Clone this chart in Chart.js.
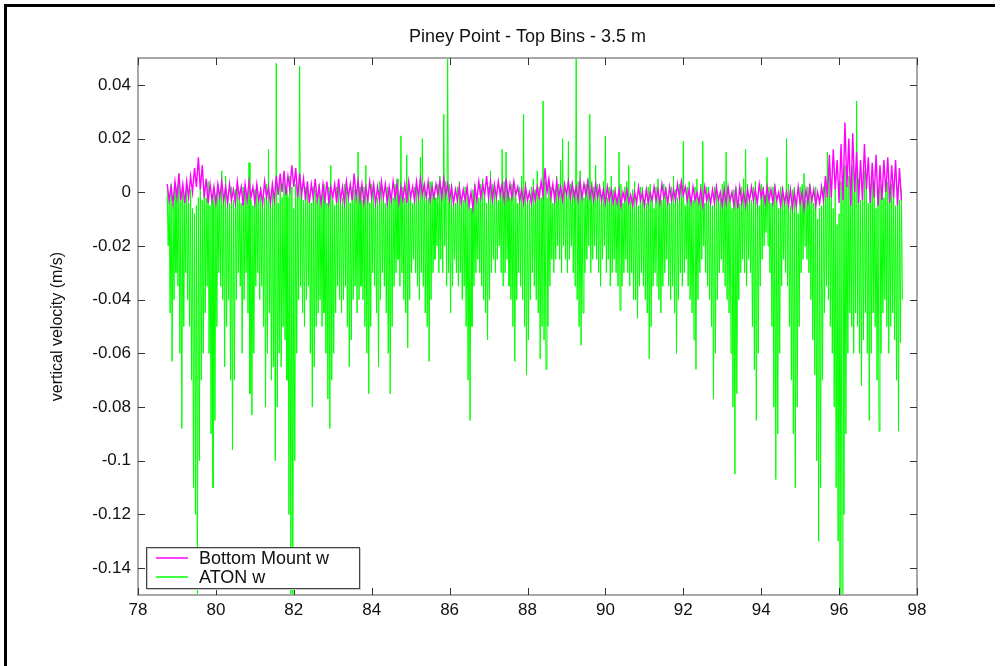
<!DOCTYPE html>
<html>
<head>
<meta charset="utf-8">
<title>Piney Point - Top Bins - 3.5 m</title>
<script src="https://cdn.jsdelivr.net/npm/chart.js@4/dist/chart.umd.min.js"></script>
<style>
  html, body { margin: 0; padding: 0; background: #fff; }
  #wrap { position: relative; width: 1001px; height: 666px; }
</style>
</head>
<body>
<div id="wrap"><canvas id="myChart" width="1001" height="666"></canvas></div>
<script>
// first sample (day) and sample intervals of the two records
const t0 = 78.75;
const bottomDt = 0.05;
const atonDt = 0.025;

const xTicks = [78, 80, 82, 84, 86, 88, 90, 92, 94, 96, 98];
const yTicks = [-0.14, -0.12, -0.1, -0.08, -0.06, -0.04, -0.02, 0, 0.02, 0.04];
const seriesNames = ['Bottom Mount w', 'ATON w'];

// bottom mounted ADCP, vertical velocity (m/s)
const bottomMount = [
  0.003,-0.003,0.002,-0.004,0.004,-0.002,0.007,-0.003,0.003,-0.004,
  0.004,-0.002,0.006,0.000,0.009,0.002,0.013,0.001,0.010,-0.002,
  0.005,-0.004,0.003,-0.003,0.002,-0.004,0.003,-0.002,0.004,-0.003,
  0.002,-0.004,0.003,-0.003,0.001,-0.004,0.004,-0.002,0.002,-0.005,
  0.003,-0.003,0.004,-0.002,0.002,-0.004,0.003,-0.003,0.001,-0.004,
  0.004,-0.002,0.002,-0.004,0.003,-0.003,0.006,-0.001,0.007,0.000,
  0.008,-0.001,0.006,0.001,0.010,0.002,0.009,-0.002,0.007,-0.001,
  0.005,-0.003,0.004,-0.004,0.003,-0.002,0.005,-0.003,0.002,-0.004,
  0.003,-0.003,0.004,-0.004,0.002,-0.002,0.003,-0.004,0.005,-0.003,
  0.002,-0.004,0.004,-0.002,0.003,-0.003,0.007,-0.002,0.004,-0.003,
  0.003,-0.004,0.002,-0.003,0.004,-0.002,0.003,-0.004,0.002,-0.003,
  0.004,-0.002,0.003,-0.004,0.002,-0.003,0.004,-0.002,0.003,-0.004,
  0.002,-0.003,0.003,-0.004,0.004,-0.002,0.002,-0.003,0.004,-0.002,
  0.005,-0.001,0.003,-0.002,0.004,-0.003,0.002,-0.002,0.003,-0.001,
  0.004,-0.002,0.005,-0.001,0.003,-0.003,0.002,-0.004,0.001,-0.003,
  0.002,-0.004,0.001,-0.003,0.002,-0.005,0.000,-0.006,0.002,-0.003,
  0.004,-0.002,0.003,-0.001,0.006,-0.002,0.004,-0.003,0.003,-0.002,
  0.004,-0.001,0.003,-0.003,0.005,-0.002,0.003,-0.002,0.004,-0.001,
  0.002,-0.003,0.001,-0.004,0.002,-0.003,0.000,-0.004,0.001,-0.003,
  0.002,-0.002,0.004,-0.001,0.009,0.000,0.005,-0.002,0.003,-0.003,
  0.004,-0.002,0.002,-0.003,0.003,-0.001,0.004,-0.002,0.003,-0.002,
  0.002,-0.003,0.004,-0.002,0.003,-0.001,0.004,-0.002,0.002,-0.003,
  0.003,-0.002,0.002,-0.003,0.001,-0.004,0.002,-0.003,0.001,-0.004,
  0.000,-0.004,0.001,-0.005,0.000,-0.003,0.001,-0.004,-0.001,-0.005,
  0.000,-0.004,0.002,-0.003,0.000,-0.005,0.001,-0.004,0.000,-0.003,
  0.002,-0.003,0.001,-0.004,0.003,-0.002,0.001,-0.004,0.002,-0.003,
  0.001,-0.003,0.003,-0.002,0.004,-0.001,0.002,-0.003,0.001,-0.004,
  0.002,-0.003,0.000,-0.004,0.001,-0.005,0.002,-0.003,0.000,-0.004,
  0.001,-0.004,0.002,-0.003,0.000,-0.005,0.001,-0.004,0.002,-0.003,
  0.000,-0.005,0.001,-0.006,0.002,-0.004,0.000,-0.005,0.001,-0.003,
  0.002,-0.003,0.001,-0.004,0.003,-0.002,0.001,-0.004,0.002,-0.003,
  0.001,-0.004,0.002,-0.003,0.000,-0.005,0.001,-0.004,0.000,-0.005,
  0.001,-0.006,0.000,-0.005,0.002,-0.004,0.000,-0.006,0.001,-0.004,
  0.002,-0.003,0.001,-0.005,0.000,-0.004,0.002,-0.003,0.006,-0.002,
  0.014,-0.002,0.016,0.001,0.012,-0.004,0.018,-0.003,0.026,0.002,
  0.020,-0.005,0.022,0.000,0.015,-0.004,0.012,-0.003,0.018,0.001,
  0.013,-0.004,0.011,-0.002,0.014,-0.005,0.010,-0.003,0.012,0.000,
  0.013,-0.004,0.010,-0.002,0.012,-0.005,0.009,-0.003
];

// buoy (ATON) mounted ADCP, vertical velocity (m/s)
const aton = [
  0.001,-0.020,-0.002,-0.045,0.003,-0.063,-0.004,-0.040,0.002,-0.030,
  -0.001,-0.035,0.007,-0.060,-0.003,-0.088,0.002,-0.050,-0.002,-0.030,
  0.003,-0.040,-0.004,-0.050,0.001,-0.070,-0.006,-0.110,-0.008,-0.120,
  -0.005,-0.150,-0.002,-0.100,0.002,-0.070,-0.003,-0.060,0.001,-0.045,
  -0.002,-0.035,0.004,-0.060,-0.005,-0.090,-0.003,-0.110,0.002,-0.085,
  -0.001,-0.050,0.003,-0.030,-0.002,-0.035,0.008,-0.040,-0.001,-0.065,
  0.006,-0.050,-0.002,-0.040,-0.004,-0.070,0.002,-0.096,-0.003,-0.070,
  0.001,-0.040,0.003,-0.030,-0.002,-0.035,-0.004,-0.060,0.002,-0.040,
  0.002,-0.030,-0.001,-0.045,0.011,-0.075,-0.003,-0.083,-0.005,-0.060,
  0.001,-0.035,0.003,-0.030,-0.002,-0.040,0.002,-0.035,-0.003,-0.050,
  -0.002,-0.080,0.003,-0.060,0.016,-0.045,-0.002,-0.070,0.002,-0.065,
  -0.001,-0.100,0.048,-0.080,-0.004,-0.060,0.004,-0.065,-0.002,-0.050,
  0.004,-0.055,0.001,-0.070,-0.002,-0.120,0.006,-0.150,0.002,-0.150,
  -0.006,-0.100,0.003,-0.060,-0.002,-0.040,0.047,-0.035,0.002,-0.045,
  -0.003,-0.050,0.002,-0.040,0.004,-0.035,-0.002,-0.060,-0.004,-0.080,
  0.002,-0.065,0.001,-0.050,-0.003,-0.045,0.003,-0.040,-0.002,-0.050,
  0.003,-0.045,-0.002,-0.060,-0.004,-0.077,0.002,-0.088,0.010,-0.070,
  -0.003,-0.060,-0.005,-0.045,0.002,-0.035,0.001,-0.040,-0.002,-0.045,
  -0.002,-0.040,0.003,-0.035,0.004,-0.050,-0.002,-0.065,-0.004,-0.055,
  0.002,-0.040,0.001,-0.035,-0.002,-0.045,0.015,-0.040,0.002,-0.035,
  -0.003,-0.040,0.002,-0.050,0.010,-0.060,-0.002,-0.075,-0.004,-0.050,
  0.003,-0.030,0.003,-0.035,-0.002,-0.045,-0.002,-0.065,0.004,-0.040,
  0.004,-0.030,-0.002,-0.035,-0.004,-0.045,0.002,-0.060,0.002,-0.075,
  -0.003,-0.050,-0.002,-0.035,0.003,-0.030,0.005,-0.025,-0.001,-0.035,
  0.021,-0.030,0.002,-0.040,-0.002,-0.045,0.014,-0.058,0.003,-0.040,
  -0.003,-0.030,-0.004,-0.025,0.002,-0.030,0.003,-0.035,-0.002,-0.040,
  0.013,-0.030,0.020,-0.035,0.002,-0.045,-0.003,-0.050,-0.002,-0.063,
  0.004,-0.040,0.004,-0.030,-0.002,-0.025,-0.002,-0.020,0.003,-0.030,
  0.006,-0.025,0.002,-0.030,0.029,-0.020,0.004,-0.035,0.050,-0.030,
  0.003,-0.045,0.003,-0.035,-0.002,-0.025,-0.004,-0.030,0.002,-0.035,
  0.004,-0.030,-0.002,-0.040,-0.003,-0.035,0.002,-0.050,0.002,-0.070,
  -0.004,-0.085,-0.006,-0.050,0.001,-0.035,0.003,-0.030,-0.002,-0.025,
  -0.002,-0.030,0.003,-0.035,0.005,-0.040,-0.002,-0.045,-0.004,-0.055,
  0.002,-0.040,0.008,-0.030,0.003,-0.025,0.002,-0.030,-0.002,-0.025,
  -0.003,-0.020,0.002,-0.030,0.016,-0.035,0.004,-0.030,0.015,-0.025,
  -0.001,-0.035,-0.002,-0.040,0.003,-0.050,0.004,-0.063,-0.002,-0.040,
  -0.004,-0.030,0.002,-0.035,0.006,-0.040,0.029,-0.050,0.004,-0.068,
  -0.002,-0.055,-0.003,-0.040,0.002,-0.030,0.005,-0.035,0.001,-0.040,
  0.008,-0.045,0.002,-0.062,-0.002,-0.050,0.034,-0.055,0.004,-0.066,
  -0.002,-0.050,0.003,-0.035,0.002,-0.025,-0.004,-0.030,0.001,-0.025,
  0.006,-0.020,0.003,-0.025,0.012,-0.030,0.020,-0.020,0.004,-0.025,
  -0.001,-0.030,0.019,-0.025,0.003,-0.020,0.004,-0.030,0.001,-0.035,
  0.050,-0.040,0.004,-0.050,0.008,-0.057,-0.001,-0.045,-0.002,-0.030,
  0.003,-0.025,0.005,-0.020,0.029,-0.030,0.004,-0.025,0.002,-0.020,
  0.010,-0.025,0.003,-0.030,0.003,-0.035,-0.001,-0.025,0.004,-0.020,
  0.021,-0.030,-0.002,-0.025,0.002,-0.035,0.006,-0.030,0.001,-0.025,
  0.002,-0.030,-0.002,-0.035,0.015,-0.044,0.003,-0.035,-0.004,-0.030,
  0.002,-0.025,0.004,-0.030,0.010,-0.035,-0.003,-0.030,0.001,-0.040,
  0.004,-0.040,-0.002,-0.047,-0.005,-0.035,0.002,-0.030,0.002,-0.035,
  -0.003,-0.040,-0.004,-0.045,0.002,-0.062,0.003,-0.050,-0.002,-0.035,
  -0.006,-0.030,0.002,-0.035,0.005,-0.040,-0.002,-0.045,-0.003,-0.035,
  0.003,-0.030,0.002,-0.025,-0.002,-0.035,-0.004,-0.040,0.002,-0.035,
  0.006,-0.045,0.001,-0.060,-0.002,-0.040,0.003,-0.030,0.004,-0.035,
  0.019,-0.030,-0.005,-0.025,0.002,-0.035,0.004,-0.040,-0.002,-0.045,
  -0.003,-0.055,0.002,-0.066,0.005,-0.040,-0.002,-0.030,0.003,-0.025,
  0.019,-0.020,-0.004,-0.030,0.002,-0.035,0.002,-0.040,-0.003,-0.050,
  -0.005,-0.077,0.002,-0.060,0.003,-0.040,-0.002,-0.030,-0.002,-0.025,
  0.003,-0.030,0.004,-0.035,0.015,-0.040,0.002,-0.045,-0.003,-0.060,
  -0.006,-0.080,0.001,-0.105,0.002,-0.075,-0.003,-0.040,-0.004,-0.030,
  0.002,-0.025,0.005,-0.030,0.016,-0.035,0.003,-0.025,-0.002,-0.030,
  -0.003,-0.050,0.002,-0.066,0.004,-0.085,-0.002,-0.060,-0.005,-0.035,
  0.003,-0.025,0.002,-0.020,-0.001,-0.015,0.013,-0.020,0.002,-0.030,
  -0.004,-0.050,0.002,-0.080,0.003,-0.107,-0.003,-0.090,-0.006,-0.060,
  0.002,-0.035,0.002,-0.025,-0.002,-0.030,0.020,-0.035,0.003,-0.050,
  -0.005,-0.070,0.001,-0.090,0.002,-0.110,-0.004,-0.080,-0.008,-0.050,
  0.002,-0.030,0.003,-0.025,0.007,-0.020,-0.003,-0.025,0.002,-0.030,
  0.003,-0.040,-0.002,-0.055,-0.004,-0.068,0.002,-0.100,-0.010,-0.130,
  -0.006,-0.110,-0.005,-0.070,0.002,-0.045,0.004,-0.035,0.015,-0.040,
  0.008,-0.050,0.004,-0.060,-0.006,-0.080,0.002,-0.110,-0.012,-0.130,
  -0.008,-0.150,0.004,-0.150,0.006,-0.120,0.010,-0.090,0.003,-0.060,
  0.006,-0.045,0.002,-0.050,0.010,-0.060,0.004,-0.045,0.034,-0.050,
  0.005,-0.060,-0.003,-0.072,0.003,-0.055,0.008,-0.045,0.002,-0.060,
  -0.004,-0.085,0.003,-0.060,0.005,-0.045,0.002,-0.050,-0.006,-0.070,
  0.001,-0.089,0.003,-0.060,-0.002,-0.045,-0.002,-0.040,0.004,-0.050,
  0.004,-0.060,0.001,-0.050,0.003,-0.045,-0.002,-0.055,-0.005,-0.070,
  0.002,-0.089,-0.003,-0.056,0.001,-0.040
];

const FONT = 'Liberation Sans, Arial, Helvetica, sans-serif';
const colors = ['#ff00ff', '#00ff00'];

function toPoints(values, step) {
  return values.map((v, i) => ({ x: t0 + i * step, y: v }));
}

// white page with the black frame, plot box with inward ticks, boxed legend
const matlabAxes = {
  id: 'matlabAxes',
  beforeDraw(chart) {
    const c = chart.ctx;
    c.save();
    c.fillStyle = '#fff';
    c.fillRect(0, 0, chart.width, chart.height);
    c.fillStyle = '#000';
    c.fillRect(4, 4, chart.width - 10, 3);
    c.fillRect(4, 4, 3, chart.height - 4);
    c.restore();
  },
  afterDatasetsDraw(chart) {
    const c = chart.ctx;
    const a = chart.chartArea;
    const xs = chart.scales.x, ys = chart.scales.y;
    c.save();
    c.strokeStyle = '#a8a8a8';
    c.lineWidth = 2;
    c.strokeRect(a.left, a.top, a.right - a.left, a.bottom - a.top);

    c.strokeStyle = '#333';
    c.lineWidth = 1;
    c.beginPath();
    xTicks.forEach(v => {
      const px = Math.round(xs.getPixelForValue(v)) + 0.5;
      c.moveTo(px, a.bottom); c.lineTo(px, a.bottom - 7);
      c.moveTo(px, a.top); c.lineTo(px, a.top + 7);
    });
    yTicks.forEach(v => {
      const py = Math.round(ys.getPixelForValue(v)) + 0.5;
      c.moveTo(a.left, py); c.lineTo(a.left + 7, py);
      c.moveTo(a.right, py); c.lineTo(a.right - 7, py);
    });
    c.stroke();

    // legend box in the lower left corner
    const bx = a.left + 8, bw = 213, bh = 41, by = a.bottom - 7 - bh;
    c.fillStyle = '#fff';
    c.fillRect(bx, by, bw, bh);
    c.strokeStyle = '#c8c8c8';
    c.strokeRect(bx + 1.5, by + 1.5, bw, bh);
    c.strokeStyle = '#444';
    c.strokeRect(bx + 0.5, by + 0.5, bw, bh);
    c.font = '18px ' + FONT;
    c.textBaseline = 'middle';
    c.textAlign = 'left';
    seriesNames.forEach((name, i) => {
      const ly = by + 11 + i * 19;
      c.strokeStyle = colors[i];
      c.lineWidth = 1.5;
      c.beginPath();
      c.moveTo(bx + 10, ly); c.lineTo(bx + 42, ly);
      c.stroke();
      c.fillStyle = '#111';
      c.fillText(name, bx + 53, ly + 1);
    });
    c.restore();
  }
};

new Chart(document.getElementById('myChart'), {
  type: 'line',
  data: {
    datasets: [{
      label: seriesNames[0],
      data: toPoints(bottomMount, bottomDt),
      borderColor: colors[0],
      borderWidth: 1.4,
      pointRadius: 0,
      tension: 0
    }, {
      label: seriesNames[1],
      data: toPoints(aton, atonDt),
      borderColor: colors[1],
      borderWidth: 1,
      pointRadius: 0,
      tension: 0
    }]
  },
  options: {
    responsive: false,
    animation: false,
    events: [],
    layout: { padding: { left: 0, top: 0, right: 84, bottom: 0 } },
    plugins: {
      legend: { display: false },
      tooltip: { enabled: false },
      title: { display: false }
    },
    scales: {
      // top edge: carries the plot title, centred over the axes
      top: {
        type: 'linear',
        position: 'top',
        min: 78,
        max: 98,
        afterFit: s => { s.height = 58; },
        grid: { display: false, drawTicks: false },
        border: { display: false },
        ticks: { display: false },
        title: {
          display: true,
          text: 'Piney Point - Top Bins - 3.5 m',
          color: '#111',
          font: { family: FONT, size: 18 },
          padding: { top: 26, bottom: 0 }
        }
      },
      x: {
        type: 'linear',
        min: 78,
        max: 98,
        afterBuildTicks: s => { s.ticks = xTicks.map(v => ({ value: v })); },
        afterFit: s => { s.height = 71; },
        grid: { display: false, drawTicks: false },
        border: { display: false },
        ticks: { padding: 5, color: '#111', autoSkip: false, maxRotation: 0, font: { family: FONT, size: 17 } }
      },
      y: {
        type: 'linear',
        min: -0.15,
        max: 0.05,
        afterBuildTicks: s => { s.ticks = yTicks.map(v => ({ value: v })); },
        afterFit: s => { s.width = 138; },
        grid: { display: false, drawTicks: false },
        border: { display: false },
        ticks: {
          padding: 7,
          color: '#111',
          autoSkip: false,
          font: { family: FONT, size: 17 },
          callback: v => String(+v.toFixed(2))
        },
        title: {
          display: true,
          text: 'vertical velocity (m/s)',
          color: '#111',
          font: { family: FONT, size: 16 },
          padding: { top: 48, bottom: 0 }
        }
      }
    }
  },
  plugins: [matlabAxes]
});
</script>
</body>
</html>
